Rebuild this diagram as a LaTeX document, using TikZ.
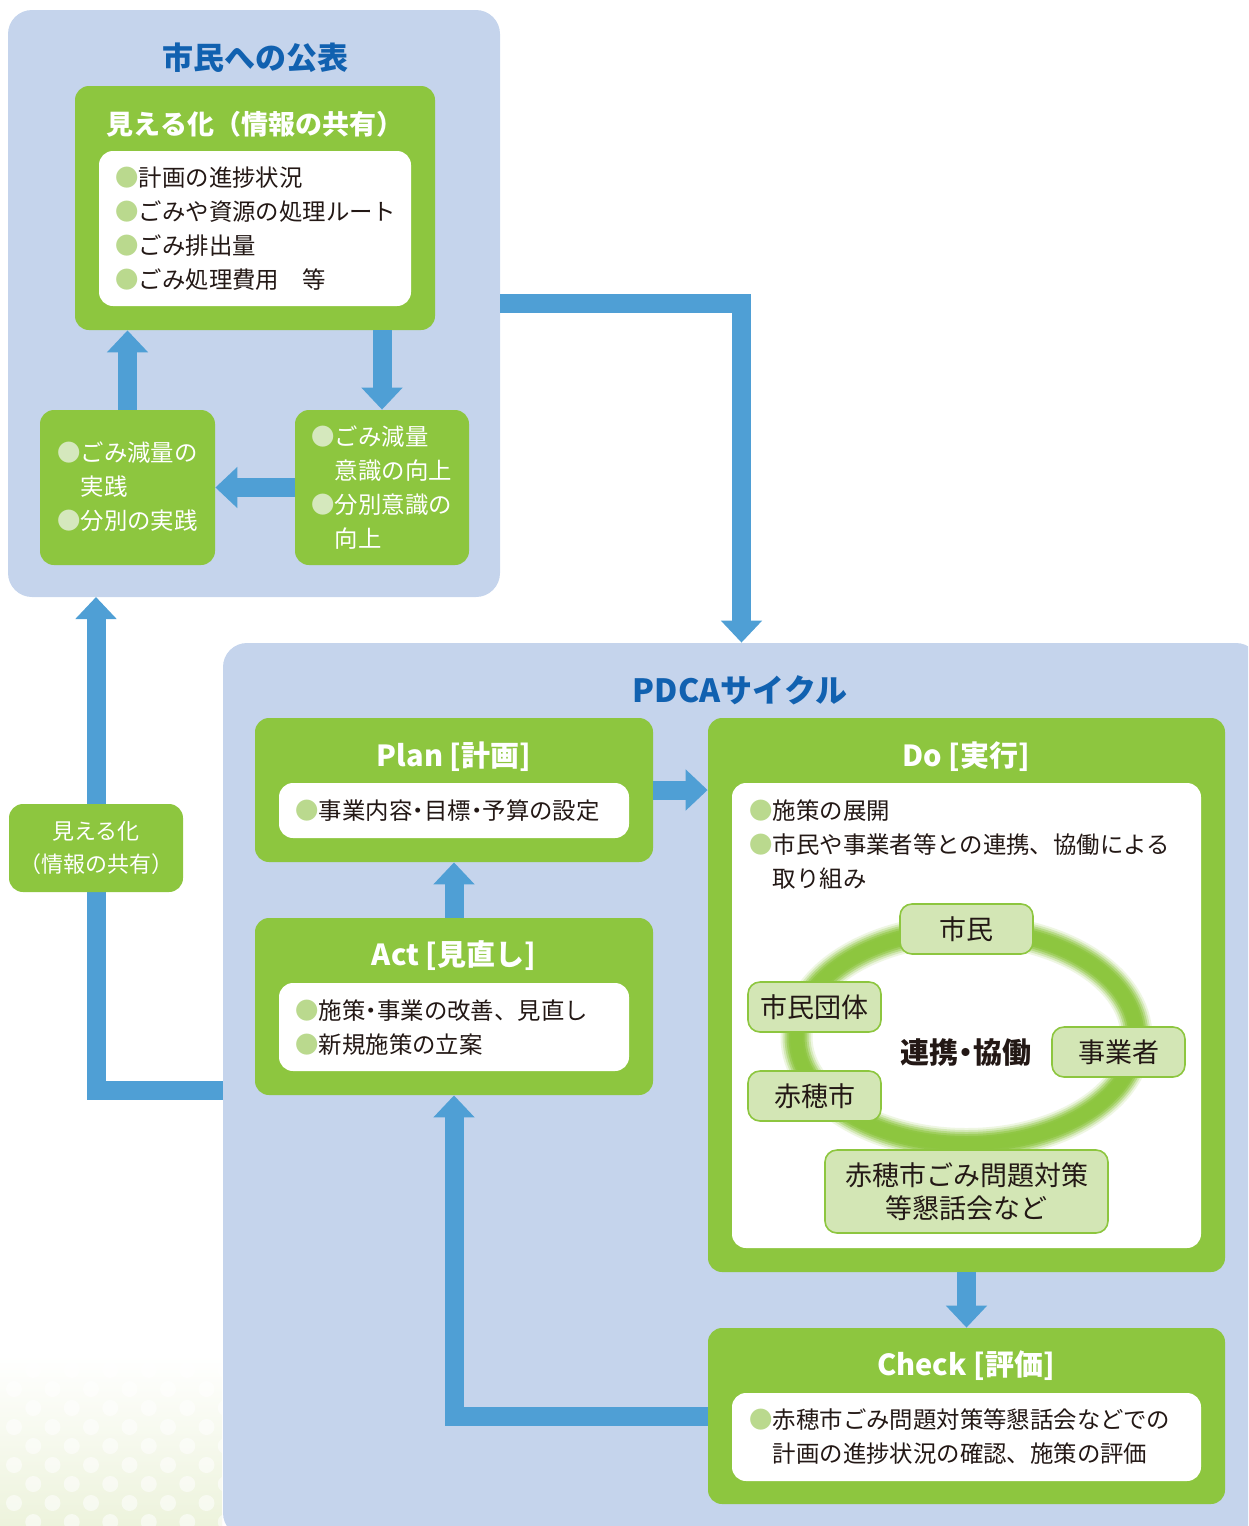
\documentclass[tikz,border=0pt]{standalone}
\usepackage{fontspec}
\setmainfont{Noto Sans CJK JP}
\usetikzlibrary{arrows.meta}

\definecolor{panelblue}{HTML}{C5D4EC}
\definecolor{leafgreen}{HTML}{8DC63F}
\definecolor{arrowblue}{HTML}{4F9FD5}
\definecolor{titleblue}{HTML}{1161B0}
\definecolor{textdark}{HTML}{231815}
\definecolor{bulletlight}{HTML}{BAD98E}
\definecolor{bulletpale}{HTML}{D5E8BD}
\definecolor{pillfill}{HTML}{D3E6B5}
\definecolor{dotbg}{HTML}{EDF3DC}

\newcommand\gbul{{\color{bulletlight}●}}
\newcommand\pbul{{\color{bulletpale}●}}
\newcommand\gap{\phantom{●}}
\newcommand\hdot{{\addfontfeature{RawFeature=+halt}・}}

\begin{document}
\begin{tikzpicture}[x=0.5pt, y=-0.5pt, font=\fontsize{11.7}{17}\selectfont,
  panel/.style={fill=panelblue, rounded corners=12pt, inner sep=0pt},
  greenbox/.style={fill=leafgreen, rounded corners=7pt, inner sep=0pt},
  whitebox/.style={fill=white, rounded corners=7pt, inner sep=0pt},
  pill/.style={fill=pillfill, draw=leafgreen, line width=0.8pt, rounded corners=6pt,
    inner sep=0pt, text=textdark, align=center, font=\fontsize{13.5}{16.5}\selectfont},
  flow/.style={draw=arrowblue, line width=9.5pt, -{Triangle[width=20pt,length=11pt]}},
  list/.style={anchor=west, align=left, inner sep=0pt, text=textdark},
  wlist/.style={list, text=white},
  headline/.style={text=titleblue, font=\bfseries\fontsize{15.5}{18}\selectfont},
  phase/.style={text=white, font=\bfseries\fontsize{14.5}{18}\selectfont}]

\useasboundingbox (0,0) rectangle (1248,1526);
\clip (0,0) rectangle (1248,1526);

% dotted corner
\begin{scope}
  \clip (0,1355) rectangle (222,1526);
  \shade[top color=white, bottom color=dotbg] (0,1355) rectangle (222,1526);
  \foreach \r in {0,...,8}{%
    \foreach \c in {0,...,6}{%
      \fill[white, opacity=0.55] ({14 + 38.5*\c + 19.25*mod(\r+1,2)}, {1370 + 19*\r}) circle (4pt);
    }
  }
\end{scope}

% panels
\node[panel, minimum width=246pt, minimum height=293.5pt] (pub) at (254,303.5) {};
\node[panel, minimum width=518.5pt, minimum height=447pt] (pdca) at (741.5,1090) {};
\node[headline] (pubtitle) at (255,58) {市民への公表};
\node[headline, font=\bfseries\fontsize{16}{18}\selectfont] (pdcatitle) at (740,690) {PDCAサイクル};

% 公表
\node[greenbox, minimum width=180pt, minimum height=122pt] (mieru) at (255,208) {};
\node[text=white, font=\bfseries\fontsize{13.5}{16}\selectfont] (mierutitle) at (255,124) {見える化（情報の共有）};
\node[whitebox, minimum width=156pt, minimum height=77.5pt] (mieruw) at (255,228.5) {};
\node[list] (mierulist) at (115,228.5) {\gbul 計画の進捗状況\\\gbul ごみや資源の処理ルート\\\gbul ごみ排出量\\\gbul ごみ処理費用　等};

\node[greenbox, minimum width=87.5pt, minimum height=77.5pt] (jissen) at (127.5,487.5) {};
\node[wlist] (jissenlist) at (57,487) {\pbul ごみ減量の\\\gap 実践\\\pbul 分別の実践};
\node[greenbox, minimum width=87pt, minimum height=77.5pt] (ishiki) at (382,487.5) {};
\node[wlist] (ishikilist) at (311,487.5) {\pbul ごみ減量\\\gap 意識の向上\\\pbul 分別意識の\\\gap 向上};

\draw[flow] (jissen.north) -- (jissen.north |- mieru.south);
\draw[flow] (mieru.south -| ishiki.north) -- (ishiki.north);
\draw[flow] (ishiki.west) -- (jissen.east);

% PDCA
\node[greenbox, minimum width=199pt, minimum height=72pt] (plan) at (454,790) {};
\node[phase] (plantitle) at (454,757) {Plan [計画]};
\node[whitebox, minimum width=175pt, minimum height=27.5pt] (planw) at (454,810.5) {};
\node[list] (planlist) at (295,811) {\gbul 事業内容\hdot 目標\hdot 予算の設定};

\node[greenbox, minimum width=199pt, minimum height=88.5pt] (act) at (454,1006.5) {};
\node[phase] (acttitle) at (454,956) {Act [見直し]};
\node[whitebox, minimum width=175pt, minimum height=44pt] (actw) at (454,1027) {};
\node[list] (actlist) at (295,1027.5) {\gbul 施策\hdot 事業の改善、見直し\\\gbul 新規施策の立案};

\node[greenbox, minimum width=258.5pt, minimum height=277pt] (do) at (966.5,995) {};
\node[phase] (dotitle) at (966,757) {Do [実行]};
\node[whitebox, minimum width=234.5pt, minimum height=232.5pt] (dow) at (966.5,1015.5) {};
\node[list] (dolist) at (749,844.5) {\gbul 施策の展開\\\gbul 市民や事業者等との連携、協働による\\\gap 取り組み};

% ring
\foreach \w/\o in {16/0.15, 14/0.25, 12/0.4, 10/0.55, 8/0.8, 6/1}{%
  \draw[leafgreen, line width=\w pt, opacity=\o] (966.5,1037) ellipse [x radius=85pt, y radius=53.5pt];
}
\node[font=\bfseries\fontsize{14.5}{17}\selectfont, text=textdark] (renkei) at (966,1052) {連携\hdot 協働};
\node[pill, minimum width=66.5pt, minimum height=25pt] (shimin) at (966.5,929) {市民};
\node[pill, minimum width=66.5pt, minimum height=25pt] (dantai) at (814.5,1007) {市民団体};
\node[pill, minimum width=66.5pt, minimum height=25pt] (ako) at (814.5,1096) {赤穂市};
\node[pill, minimum width=66.5pt, minimum height=25pt] (jigyo) at (1118.5,1052) {事業者};
\node[pill, minimum width=141.5pt, minimum height=41.5pt] (konwa) at (966.5,1191.5) {赤穂市ごみ問題対策\\等懇話会など};

\node[greenbox, minimum width=258.5pt, minimum height=88pt] (check) at (966.5,1416) {};
\node[phase] (checktitle) at (966,1366) {Check [評価]};
\node[whitebox, minimum width=234.5pt, minimum height=44pt] (checkw) at (966.5,1437) {};
\node[list] (checklist) at (749,1436.5) {\gbul 赤穂市ごみ問題対策等懇話会などでの\\\gap 計画の進捗状況の確認、施策の評価};

\draw[flow] (act.north) -- (plan.south);
\draw[flow] (plan.east) -- (plan.east -| do.west);
\draw[flow] (do.south) -- (check.north);
\draw[flow] (check.west) -| (act.south);

% between panels
\draw[flow] (pub.east) -| (pdca.north);
\draw[flow] (pdca.west) -| (96,597);
\node[greenbox, minimum width=87pt, minimum height=44pt, text=white, align=center,
  font=\fontsize{11}{16.5}\selectfont] (vis) at (96,848) {見える化\\（情報の共有）};

\end{tikzpicture}
\end{document}
